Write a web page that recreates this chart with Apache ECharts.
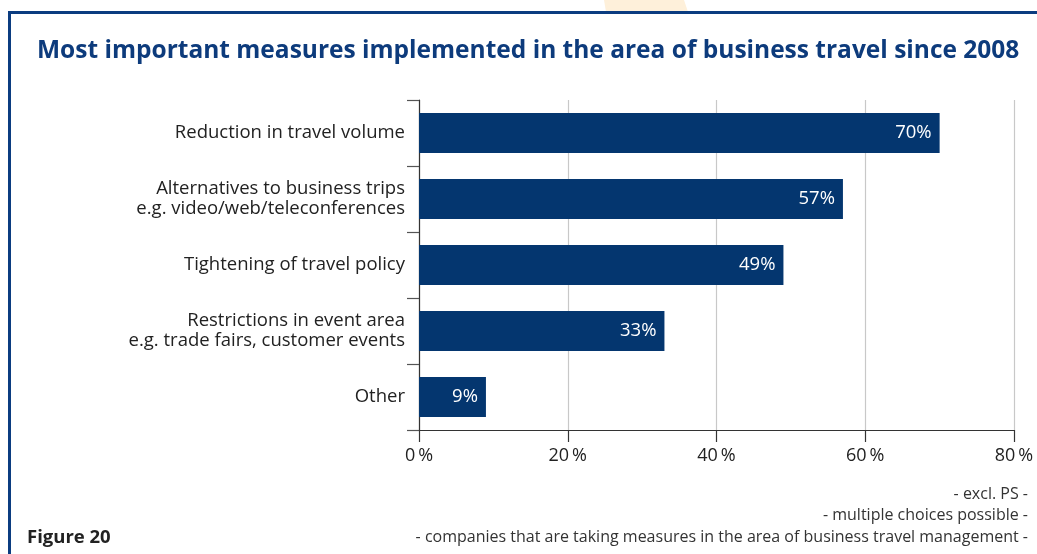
<!DOCTYPE html>
<html>
<head>
<meta charset="utf-8">
<style>
  html, body { margin: 0; padding: 0; background: #ffffff; }
  #chart { width: 1037px; height: 554px; }
</style>
<script src="https://cdn.jsdelivr.net/npm/echarts@6/dist/echarts.min.js"></script>
</head>
<body>
<div id="chart"></div>
<script>
// Measures implemented since 2008 (share of companies, %)
var categories = [
  'Reduction in travel volume',
  'Alternatives to business trips\ne.g. video/web/teleconferences',
  'Tightening of travel policy',
  'Restrictions in event area\ne.g. trade fairs, customer events',
  'Other'
];
var values = [70, 57, 49, 33, 9];
var xTickLabels = ['0\u2009%', '20\u2009%', '40\u2009%', '60\u2009%', '80\u2009%'];
var footnotes = [
  '- excl. PS -',
  '- multiple choices possible -',
  '- companies that are taking measures in the area of business travel management -'
];
var titleText = 'Most important measures implemented in the area of business travel since 2008';
var figureLabel = 'Figure 20';

var navy = '#04366f';
var textDark = '#222222';
var font = 'Open Sans';

var chart = echarts.init(document.getElementById('chart'), null, { renderer: 'canvas' });

// footnote lines, each right-aligned at the same edge
var footnoteGraphics = footnotes.map(function (line, i) {
  return {
    type: 'text',
    x: 1028,
    y: 494 + i * 21.5,
    style: {
      text: line,
      align: 'right',
      verticalAlign: 'middle',
      fontFamily: font,
      fontSize: 16,
      fill: '#333333'
    }
  };
});

chart.setOption({
  backgroundColor: '#ffffff',
  animation: false,
  title: {
    text: titleText,
    left: 32,
    top: 34,
    textStyle: {
      fontFamily: font,
      fontWeight: 'bold',
      fontSize: 24.5,
      color: '#0d3b7c'
    }
  },
  grid: {
    left: 419,
    top: 100,
    right: 23,
    bottom: 124,
    containLabel: false
  },
  xAxis: {
    type: 'value',
    min: 0,
    max: 80,
    interval: 20,
    axisLine: { show: true, lineStyle: { color: '#333333', width: 1.2 } },
    axisTick: { show: true, length: 12, lineStyle: { color: '#333333', width: 1.2 } },
    splitLine: { show: true, lineStyle: { color: '#c8c8c8', width: 1.2 } },
    axisLabel: {
      margin: 17,
      fontFamily: font,
      fontSize: 18,
      color: textDark,
      formatter: function (v) { return xTickLabels[v / 20]; }
    }
  },
  yAxis: {
    type: 'category',
    data: categories,
    inverse: true,
    axisLine: { show: true, lineStyle: { color: '#333333', width: 1.2 } },
    axisTick: { show: true, length: 12, lineStyle: { color: '#555555', width: 1.2 } },
    splitLine: { show: false },
    axisLabel: {
      margin: 14,
      fontFamily: font,
      fontSize: 18.5,
      lineHeight: 20,
      color: textDark,
      align: 'right'
    }
  },
  series: [{
    type: 'bar',
    data: values,
    barWidth: 40,
    itemStyle: { color: navy },
    label: {
      show: true,
      position: 'insideRight',
      distance: 8,
      formatter: '{c}%',
      fontFamily: font,
      fontSize: 18.5,
      color: '#ffffff'
    }
  }],
  graphic: [
    {
      type: 'polygon',
      z: 0,
      shape: { points: [[604, 0], [684, 0], [688, 12], [606, 12]] },
      style: { fill: '#fef0da' }
    },
    {
      type: 'rect',
      z: 1,
      shape: { x: 9.5, y: 12.5, width: 1100, height: 700 },
      style: { fill: 'none', stroke: '#0b3c80', lineWidth: 3 }
    },
    {
      type: 'text',
      x: 27,
      y: 538,
      style: {
        text: figureLabel,
        verticalAlign: 'middle',
        fontFamily: font,
        fontWeight: 'bold',
        fontSize: 18.5,
        fill: textDark
      }
    }
  ].concat(footnoteGraphics)
});
</script>
</body>
</html>
